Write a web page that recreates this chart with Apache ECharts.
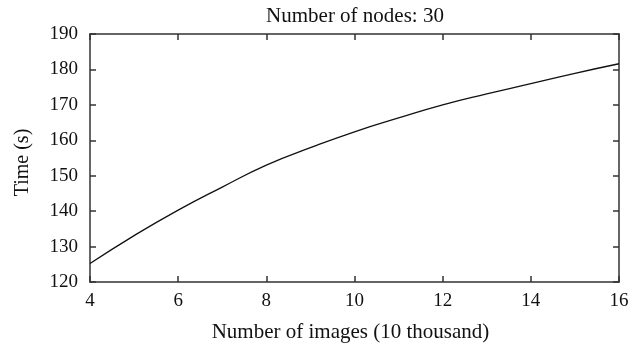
<!DOCTYPE html>
<html>
<head>
<meta charset="utf-8">
<script src="https://cdn.jsdelivr.net/npm/echarts@6/dist/echarts.min.js"></script>
<style>html,body{margin:0;padding:0;background:#fff}#c{width:643px;height:349px}</style>
</head>
<body>
<div id="c"></div>
<script>
const titleText = "Number of nodes: 30";
const xName = "Number of images (10 thousand)";
const yName = "Time (s)";
const xValues = [4, 5, 6, 7, 8, 9, 10, 11, 12, 13, 14, 15, 16];
const timeValues = [125.2, 133.1, 140.3, 146.8, 153.0, 157.9, 162.4, 166.3, 170.0, 173.1, 176.0, 178.9, 181.6];

const font = "Liberation Serif";
const axisColor = "#333";
const chart = echarts.init(document.getElementById('c'));
const data = xValues.map((x, i) => [x, timeValues[i]]);
const common = {
  axisLine: {show: true, lineStyle: {color: axisColor, width: 1.5}},
  axisTick: {show: true, inside: true, length: 6, lineStyle: {color: axisColor, width: 1.5}},
  splitLine: {show: false}
};
chart.setOption({
  animation: false,
  title: {text: titleText, left: 350, top: 1, textAlign: 'center',
    textStyle: {fontFamily: font, fontSize: 21, fontWeight: 'normal', color: '#111'}},
  grid: {left: 90, top: 34, right: 24, bottom: 67},
  xAxis: [
    Object.assign({type: 'value', min: 4, max: 16, interval: 2, position: 'bottom',
      name: xName, nameLocation: 'middle', nameGap: 40,
      nameTextStyle: {fontFamily: font, fontSize: 21, color: '#111', padding: [0, 8, 0, 0]},
      axisLabel: {fontFamily: font, fontSize: 19, color: '#111', margin: 10}}, common),
    Object.assign({type: 'value', min: 4, max: 16, interval: 2, position: 'top',
      axisLabel: {show: false}}, common)
  ],
  yAxis: [
    Object.assign({type: 'value', min: 120, max: 190, interval: 10, position: 'left',
      name: yName, nameLocation: 'middle', nameGap: 57, nameRotate: 90,
      nameTextStyle: {fontFamily: font, fontSize: 20, color: '#111', padding: [0, 9, 0, 0]},
      axisLabel: {fontFamily: font, fontSize: 19, color: '#111', margin: 12}}, common),
    Object.assign({type: 'value', min: 120, max: 190, interval: 10, position: 'right',
      axisLabel: {show: false}}, common)
  ],
  series: [{
    type: 'line', data: data, smooth: true, showSymbol: false,
    lineStyle: {color: '#111', width: 1.3}
  }]
});
</script>
</body>
</html>
